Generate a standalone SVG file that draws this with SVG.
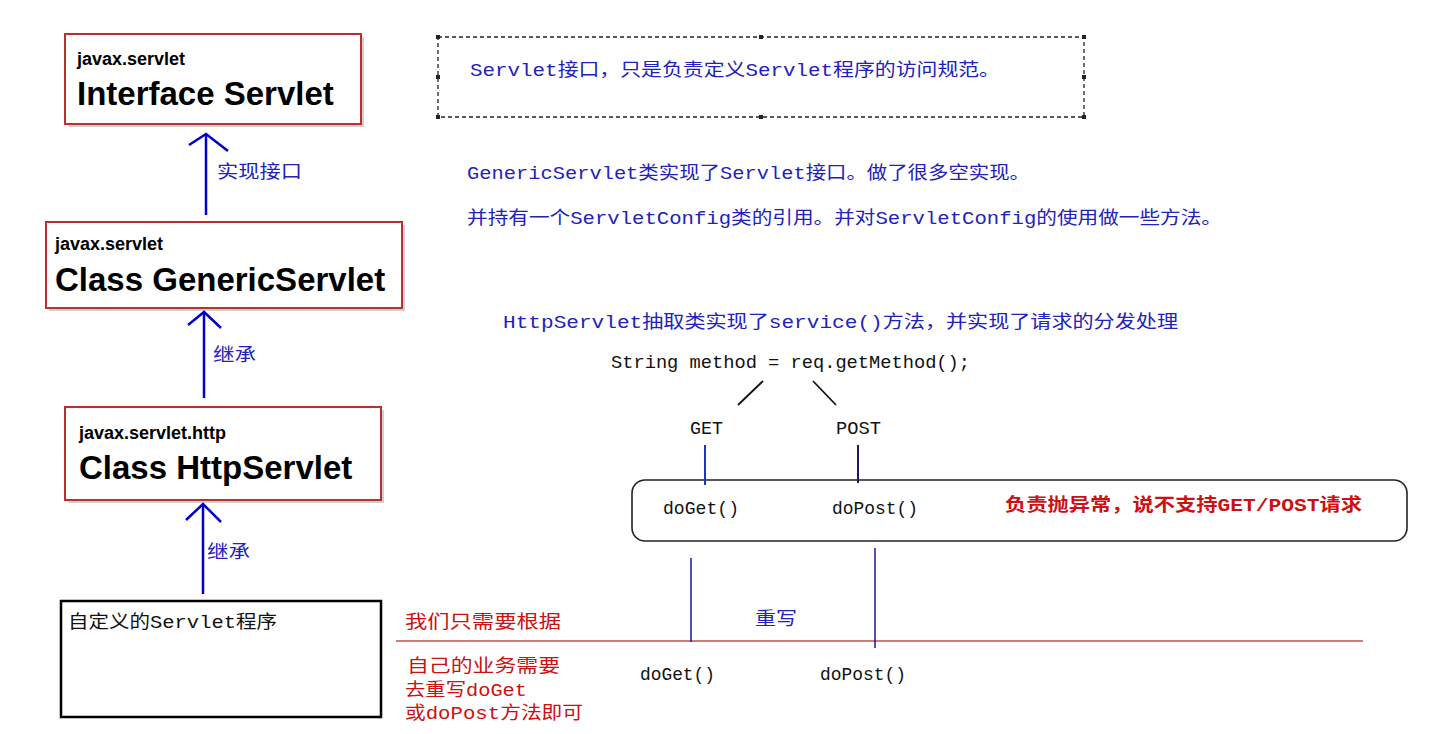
<svg xmlns="http://www.w3.org/2000/svg" width="1448" height="734" viewBox="0 0 1448 734">
<defs>
<style>
.box{fill:#fff;stroke:#b8312f;stroke-width:2}
.shadow{fill:#d0d0d0}
.pkg{font-family:"Liberation Sans",Arial,sans-serif;font-weight:bold;font-size:18px;fill:#000}
.cls{font-family:"Liberation Sans",Arial,sans-serif;font-weight:bold;font-size:33px;fill:#000}
.cn{font-family:"Liberation Mono","Noto Sans CJK SC",monospace;font-size:18px}
.blue{fill:#2222bb}
.red{fill:#cc1111}
.blk{fill:#111}
.arrow{stroke:#0000cc;stroke-width:2.5;fill:none}
.navy{stroke:#1a1a8c;stroke-width:1.5;fill:none}
</style>
</defs>
<rect width="1448" height="734" fill="#fff"/>

<g id="node-servlet">
<rect class="shadow" x="68" y="37" width="296" height="90"/>
<rect class="box" x="65" y="34" width="296" height="90"/>
<text class="pkg" x="77" y="65">javax.servlet</text>
<text class="cls" x="77" y="105">Interface Servlet</text>
</g>

<g id="node-generic">
<rect class="shadow" x="49" y="225" width="356" height="86"/>
<rect class="box" x="46" y="222" width="356" height="86"/>
<text class="pkg" x="55" y="250">javax.servlet</text>
<text class="cls" x="55" y="291">Class GenericServlet</text>
</g>

<g id="node-http">
<rect class="shadow" x="68" y="410" width="316" height="93"/>
<rect class="box" x="65" y="407" width="316" height="93"/>
<text class="pkg" x="79" y="439">javax.servlet.http</text>
<text class="cls" x="79" y="479">Class HttpServlet</text>
</g>

<g id="node-custom">
<rect x="61" y="601" width="320" height="116" fill="#fff" stroke="#000" stroke-width="2.5"/>
<text class="cn blk" x="68" y="628" textLength="209" lengthAdjust="spacingAndGlyphs">自定义的Servlet程序</text>
</g>

<g id="note-servlet">
<rect x="438" y="37" width="646" height="80" fill="none" stroke="#222" stroke-width="1.3" stroke-dasharray="4,3"/>
<g fill="#222">
<rect x="436" y="35" width="4" height="4"/><rect x="759" y="35" width="4" height="4"/><rect x="1082" y="35" width="4" height="4"/>
<rect x="436" y="75" width="4" height="4"/><rect x="1082" y="75" width="4" height="4"/>
<rect x="436" y="115" width="4" height="4"/><rect x="759" y="115" width="4" height="4"/><rect x="1082" y="115" width="4" height="4"/>
</g>
<text class="cn blue" x="470" y="76" textLength="530" lengthAdjust="spacingAndGlyphs">Servlet接口，只是负责定义Servlet程序的访问规范。</text>
</g>

<g id="note-generic">
<text class="cn blue" x="467" y="179" textLength="563" lengthAdjust="spacingAndGlyphs">GenericServlet类实现了Servlet接口。做了很多空实现。</text>
<text class="cn blue" x="467" y="224" textLength="755" lengthAdjust="spacingAndGlyphs">并持有一个ServletConfig类的引用。并对ServletConfig的使用做一些方法。</text>
</g>

<g id="note-http">
<text class="cn blue" x="503" y="328" textLength="675" lengthAdjust="spacingAndGlyphs">HttpServlet抽取类实现了service()方法，并实现了请求的分发处理</text>
<text class="cn blk" x="611" y="368" textLength="359" lengthAdjust="spacingAndGlyphs">String method = req.getMethod();</text>
<text class="cn blk" x="690" y="434" textLength="33" lengthAdjust="spacingAndGlyphs">GET</text>
<text class="cn blk" x="836" y="434" textLength="45" lengthAdjust="spacingAndGlyphs">POST</text>
</g>

<g id="node-dispatch">
<rect x="632" y="480" width="775" height="61" rx="13" fill="#fff" stroke="#222" stroke-width="1.6"/>
<text class="cn blk" x="663" y="514" textLength="76" lengthAdjust="spacingAndGlyphs">doGet()</text>
<text class="cn blk" x="832" y="514" textLength="86" lengthAdjust="spacingAndGlyphs">doPost()</text>
<text class="cn red" x="1005" y="511" font-weight="bold" textLength="357" lengthAdjust="spacingAndGlyphs">负责抛异常，说不支持GET/POST请求</text>
</g>

<g id="note-override">
<text class="cn red" x="405" y="628" textLength="156" lengthAdjust="spacingAndGlyphs">我们只需要根据</text>
<text class="cn red" x="407" y="672" textLength="153" lengthAdjust="spacingAndGlyphs">自己的业务需要</text>
<text class="cn red" x="405" y="696" textLength="122" lengthAdjust="spacingAndGlyphs">去重写doGet</text>
<text class="cn red" x="405" y="719" textLength="178" lengthAdjust="spacingAndGlyphs">或doPost方法即可</text>
<text class="cn blk" x="640" y="680" textLength="75" lengthAdjust="spacingAndGlyphs">doGet()</text>
<text class="cn blk" x="820" y="680" textLength="86" lengthAdjust="spacingAndGlyphs">doPost()</text>
</g>

<g id="connectors">
<line class="arrow" x1="206" y1="215" x2="206" y2="134"/>
<polyline class="arrow" points="189,145 206,134 228,151"/>
<text class="cn blue" x="217" y="178" textLength="85" lengthAdjust="spacingAndGlyphs">实现接口</text>

<line class="arrow" x1="204" y1="398" x2="204" y2="312"/>
<polyline class="arrow" points="188,325 204,312 221,328"/>
<text class="cn blue" x="213" y="361" textLength="43" lengthAdjust="spacingAndGlyphs">继承</text>

<line class="arrow" x1="203" y1="594" x2="203" y2="504"/>
<polyline class="arrow" points="186,520 203,504 221,522"/>
<text class="cn blue" x="207" y="558" textLength="43" lengthAdjust="spacingAndGlyphs">继承</text>

<line x1="763" y1="381" x2="738" y2="405" stroke="#111" stroke-width="1.8"/>
<line x1="813" y1="381" x2="836" y2="405" stroke="#111" stroke-width="1.8"/>
<line x1="705" y1="445" x2="705" y2="485" stroke="#2233cc" stroke-width="2"/>
<line x1="858" y1="445" x2="858" y2="483" stroke="#1a1a5c" stroke-width="2"/>

<line x1="396" y1="641" x2="1363" y2="641" stroke="#c0504d" stroke-width="1.6"/>
<line class="navy" x1="691" y1="558" x2="691" y2="642"/>
<line class="navy" x1="875" y1="548" x2="875" y2="648"/>
<text class="cn blue" x="755" y="625" textLength="42" lengthAdjust="spacingAndGlyphs">重写</text>
</g>
</svg>
